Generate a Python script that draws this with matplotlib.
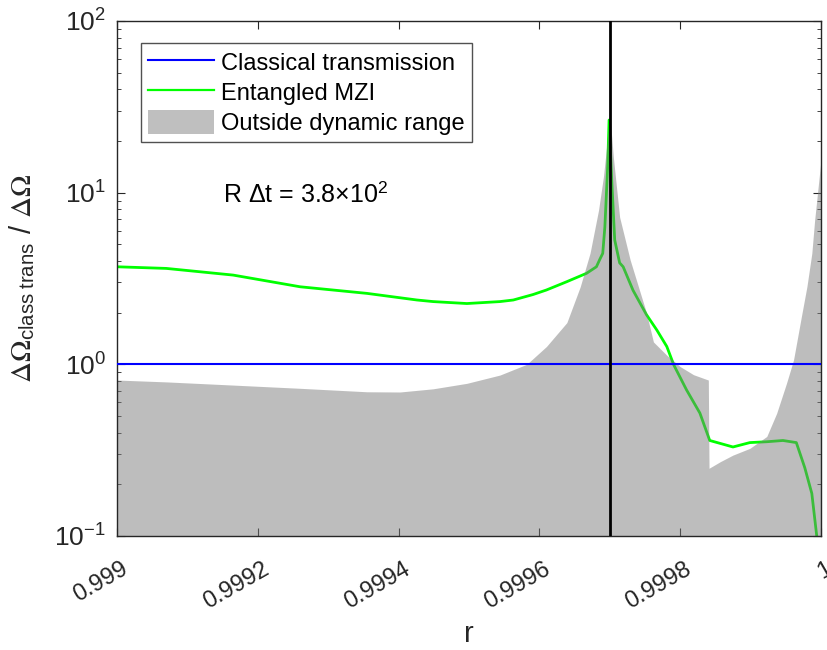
import matplotlib
matplotlib.use("Agg")
import matplotlib.pyplot as plt
from matplotlib.ticker import FixedLocator, FixedFormatter, LogLocator, NullFormatter
from matplotlib.patches import Patch
from matplotlib.lines import Line2D
from matplotlib.transforms import ScaledTranslation

plt.rcParams['font.family'] = ['Liberation Sans', 'DejaVu Sans']
plt.rcParams['mathtext.fontset'] = 'stix'
plt.rcParams['axes.unicode_minus'] = False

# green curve: entangled MZI (r, ratio)
mzi_r = [0.999, 0.99907, 0.999165, 0.99926, 0.999355, 0.999426, 0.999449,
         0.999497, 0.999544, 0.999563, 0.999591, 0.99961, 0.999639, 0.999667,
         0.999681, 0.999686, 0.99969, 0.999693, 0.999697, 0.999699, 0.999703,
         0.999707, 0.999714, 0.999719, 0.999733, 0.999752, 0.999767, 0.999781,
         0.999791, 0.999809, 0.999828, 0.999842, 0.999875, 0.999899, 0.999923,
         0.999946, 0.999965, 0.999977, 0.999987, 0.999994]
mzi_val = [3.70, 3.62, 3.31, 2.83, 2.59, 2.37, 2.32,
           2.26, 2.32, 2.37, 2.55, 2.71, 3.03, 3.39,
           3.70, 4.1, 4.43, 6.3, 14.1, 26.5, 11.3,
           5.3, 3.9, 3.7, 2.7, 1.95, 1.58, 1.27,
           0.99, 0.71, 0.52, 0.36, 0.33, 0.35, 0.354,
           0.36, 0.35, 0.25, 0.177, 0.1]

# gray region: outside dynamic range (upper edge)
gray_r = [0.999, 0.99907, 0.999165, 0.99926, 0.999355, 0.999402, 0.999449,
          0.999497, 0.999544, 0.999582, 0.99961, 0.999639, 0.999658, 0.999672,
          0.999684, 0.999691, 0.999696, 0.9997, 0.999705, 0.999714, 0.999729,
          0.999752, 0.999762, 0.999781, 0.9998, 0.999819, 0.99984, 0.999841,
          0.999857, 0.999875, 0.999899, 0.999923, 0.999937, 0.999951, 0.999961,
          0.999973, 0.99998, 0.999987, 0.999991, 0.999996, 1.0]
gray_val = [0.81, 0.79, 0.757, 0.725, 0.692, 0.69, 0.72,
            0.775, 0.866, 1.0, 1.27, 1.75, 2.83, 4.45,
            7.9, 12.4, 19.4, 29.0, 16.2, 7.2, 4.05,
            2.0, 1.35, 1.13, 0.97, 0.87, 0.81, 0.248,
            0.271, 0.296, 0.324, 0.38, 0.518, 0.775, 1.06,
            1.98, 2.83, 4.43, 6.9, 10.8, 15.5]

classical = 1.0
r_marker = 0.9997
x_ticks = [0.999, 0.9992, 0.9994, 0.9996, 0.9998, 1.0]
x_labels = ['0.999', '0.9992', '0.9994', '0.9996', '0.9998', '1']

fig = plt.figure(figsize=(8.27, 6.5), dpi=100)
ax = fig.add_axes([0.1415, 0.1754, 0.8512, 0.7923])

ax.plot(mzi_r, mzi_val, color=(0, 1, 0), lw=2.0, zorder=1)
ax.fill_between(gray_r, 0.1, gray_val, color=(0.48, 0.48, 0.48), alpha=0.49,
                lw=0, zorder=2)
ax.axhline(classical, color=(0, 0, 1), lw=1.5, zorder=3)
ax.axvline(r_marker, color='black', lw=2, zorder=4)

ax.set_yscale('log')
ax.set_xlim(0.999, 1.0)
ax.set_ylim(0.1, 100)

ax.xaxis.set_major_locator(FixedLocator(x_ticks))
ax.xaxis.set_major_formatter(FixedFormatter(x_labels))
ax.yaxis.set_major_locator(LogLocator(base=10, numticks=10))
ax.yaxis.set_minor_locator(LogLocator(base=10, subs=range(2, 10), numticks=10))
ax.yaxis.set_minor_formatter(NullFormatter())

axcol = (0.15, 0.15, 0.15)
for s in ax.spines.values():
    s.set_color(axcol)
    s.set_linewidth(1.0)
ax.tick_params(which='both', direction='in', top=True, right=True, color=axcol,
               labelcolor=axcol)
ax.tick_params(which='major', length=6)
ax.tick_params(which='minor', length=3)
ax.tick_params(axis='x', labelsize=17, pad=16)
ax.tick_params(axis='y', labelsize=19, pad=8)

shift = ScaledTranslation(4 / 100, 0, fig.dpi_scale_trans)
for lab in ax.get_xticklabels():
    lab.set_rotation(30)
    lab.set_ha('right')
    lab.set_va('top')
    lab.set_rotation_mode('anchor')
    lab.set_transform(lab.get_transform() + shift)

ax.set_xlabel('r', fontsize=21, labelpad=5, color=axcol)
ax.set_ylabel(r'$\Delta\Omega_{\mathdefault{class\ trans}}$ / $\Delta\Omega$',
              fontsize=21, labelpad=12, color=axcol)

ax.text(0.99915, 9.7, r'R Δt = 3.8×10$^{\mathdefault{2}}$', fontsize=18,
        va='center', ha='left')

handles = [Line2D([], [], color=(0, 0, 1), lw=1.5),
           Line2D([], [], color=(0, 1, 0), lw=1.6),
           Patch(facecolor=(0.75, 0.75, 0.75), edgecolor='none')]
labels = ['Classical transmission', 'Entangled MZI', 'Outside dynamic range']
leg = ax.legend(handles, labels, loc='upper left', bbox_to_anchor=(0.034, 0.957),
                fontsize=17, frameon=True, fancybox=False, handlelength=2.8,
                handleheight=1.2, labelspacing=0.2, borderpad=0.3,
                handletextpad=0.3, borderaxespad=0)
leg.get_frame().set_edgecolor(axcol)
leg.get_frame().set_linewidth(1.0)

fig.savefig('out.png', dpi=100)
